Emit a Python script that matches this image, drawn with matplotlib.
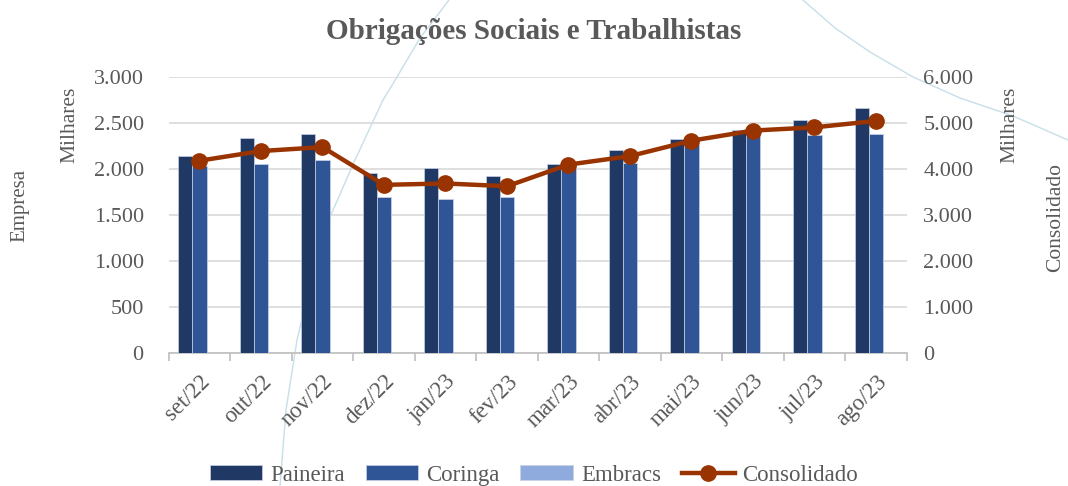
import numpy as np
import matplotlib
matplotlib.use("Agg")
import matplotlib.pyplot as plt
from matplotlib.lines import Line2D
from matplotlib.ticker import FuncFormatter, MultipleLocator

# data (R$ milhares)
meses = ['set/22', 'out/22', 'nov/22', 'dez/22', 'jan/23', 'fev/23',
         'mar/23', 'abr/23', 'mai/23', 'jun/23', 'jul/23', 'ago/23']
paineira = [2140, 2340, 2375, 1955, 2010, 1925, 2050, 2210, 2330, 2425, 2535, 2665]
coringa = [2035, 2050, 2100, 1700, 1675, 1700, 2045, 2070, 2285, 2410, 2370, 2380]
embracs = [0, 0, 0, 0, 0, 0, 0, 0, 0, 0, 0, 0]
consolidado = [4180, 4390, 4475, 3655, 3685, 3625, 4095, 4280, 4615, 4835, 4905, 5045]

cinza = '#595959'
plt.rcParams['font.family'] = ['Liberation Serif', 'DejaVu Serif']

fig = plt.figure(figsize=(10.68, 4.86), dpi=100)
ax = fig.add_axes([0.158, 0.2737, 0.691, 0.5679])
ax.patch.set_visible(False)
ax2 = ax.twinx()

# faint decorative arcs in the background (figure pixel coords)
W, H = 1068, 486
arc1 = np.array([(449, 0), (420, 38), (397, 77), (383, 100), (355, 160), (330, 217),
                 (310, 285), (297, 340), (286, 410), (280, 486)])
arc2 = np.array([(803, 0), (835, 28), (870, 52), (913, 77), (960, 98), (1013, 116), (1068, 140)])
for arc in (arc1, arc2):
    fig.add_artist(Line2D(arc[:, 0] / W, 1 - arc[:, 1] / H, transform=fig.transFigure,
                          color='#c6dfe8', lw=1.0, zorder=-5))

x = np.arange(len(meses))
w = 0.23
ax.bar(x - w, paineira, w, color='#203864', edgecolor='#c9d3e6', linewidth=0.5, label='Paineira', zorder=3)
ax.bar(x, coringa, w, color='#2F5597', edgecolor='#c9d3e6', linewidth=0.5, label='Coringa', zorder=3)
ax.bar(x + w, embracs, w, color='#8FAADC', edgecolor='#c9d3e6', linewidth=0.5, label='Embracs', zorder=3)
ax2.plot(x, consolidado, color='#993300', lw=3.2, marker='o', markersize=11, label='Consolidado', zorder=4)

ax.set_xlim(-0.5, len(meses) - 0.5)
ax.set_ylim(0, 3000)
ax2.set_ylim(0, 6000)
ax.yaxis.set_major_locator(MultipleLocator(500))
ax2.yaxis.set_major_locator(MultipleLocator(1000))
fmt = FuncFormatter(lambda v, p: f'{v:,.0f}'.replace(',', '.'))
ax.yaxis.set_major_formatter(fmt)
ax2.yaxis.set_major_formatter(fmt)

ax.grid(axis='y', color='#d9d9d9', lw=1.2, zorder=0)
ax.set_axisbelow(True)
for a in (ax, ax2):
    for s in ('top', 'left', 'right', 'bottom'):
        a.spines[s].set_visible(False)
ax.spines['bottom'].set_visible(True)
ax.spines['bottom'].set_color('#bfbfbf')
ax.spines['bottom'].set_linewidth(1.2)

ax.set_xticks(x)
ax.set_xticklabels(meses, rotation=45, ha='right', rotation_mode='anchor')
ax.set_xticks(np.arange(-0.5, len(meses)), minor=True)
ax.tick_params(axis='x', which='major', length=0, pad=13, labelsize=16.5, labelcolor=cinza)
ax.tick_params(axis='x', which='minor', length=6, color='#bfbfbf', width=1.2)
ax.tick_params(axis='y', length=0, pad=18, labelsize=16, labelcolor=cinza)
ax2.tick_params(axis='y', length=0, pad=12, labelsize=16, labelcolor=cinza)

fig.text(0.5, 0.936, 'Obrigações Sociais e Trabalhistas', ha='center', va='center',
         fontsize=21, fontweight='bold', color=cinza)
fig.text(0.019, 0.578, 'Empresa', rotation=90, ha='center', va='center', fontsize=15, color=cinza)
fig.text(0.0655, 0.743, 'Milhares', rotation=90, ha='center', va='center', fontsize=15.5, color=cinza)
fig.text(0.9457, 0.743, 'Milhares', rotation=90, ha='center', va='center', fontsize=15.5, color=cinza)
fig.text(0.988, 0.553, 'Consolidado', rotation=90, ha='center', va='center', fontsize=15.5, color=cinza)

h1, l1 = ax.get_legend_handles_labels()
h2, l2 = ax2.get_legend_handles_labels()
fig.legend(h1 + h2, l1 + l2, loc='center', bbox_to_anchor=(0.5, 0.022), ncol=4,
           frameon=False, fontsize=16.5, labelcolor=cinza, handlelength=2.3,
           handleheight=0.6, handletextpad=0.35, columnspacing=0.9)

fig.savefig('out.png', dpi=100)
